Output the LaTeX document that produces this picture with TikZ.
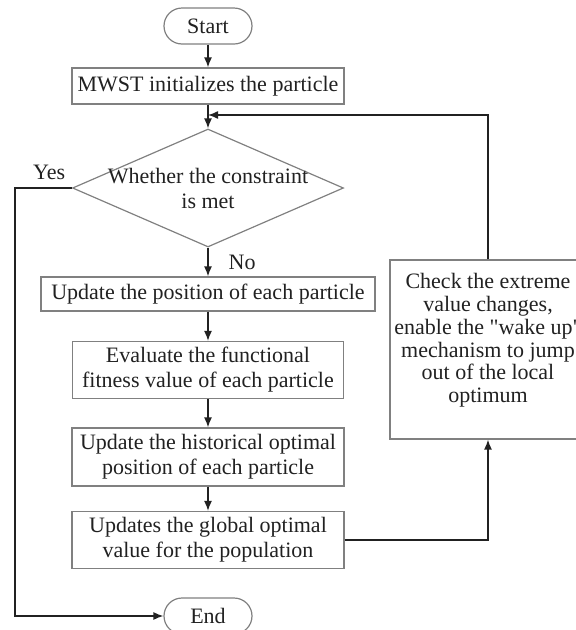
\documentclass[tikz,border=0pt]{standalone}
\usepackage{fontspec}
\setmainfont{Liberation Serif}
\usetikzlibrary{positioning,shapes.geometric,arrows.meta}
\definecolor{edge}{gray}{0.5}
\definecolor{ink}{gray}{0.13}
\tikzset{
  proc/.style={draw=edge, line width=1.2pt, minimum height=36pt, inner sep=0pt, align=center, text=ink},
  term/.style={proc, rounded corners=18pt, minimum width=88pt},
  arr/.style={draw=ink, line width=1.4pt, -{Latex[length=10pt,width=8pt]}}}

\begin{document}
\begin{tikzpicture}[x=1pt, y=1pt, font=\fontsize{22}{25}\selectfont,
  dec/.style={diamond, draw=edge, line width=1.2pt, minimum width=271pt, minimum height=118pt, inner sep=0pt},
  lbl/.style={text=ink, inner sep=2pt}]
\useasboundingbox (0,0) rectangle (576,-630);
\node[term] (start) at (208,-26) {Start};
\node[proc, minimum width=272pt] (init) at (208,-86) {MWST initializes the particle};
\node[dec] (cond) at (208,-188) {};
\node[lbl, align=center] (condtxt) at (cond) {Whether the constraint\\is met};
\node[proc, minimum width=334pt, minimum height=34pt] (upd) at (208,-294) {Update the position of each particle};
\node[proc, minimum width=271pt, minimum height=57pt] (eval) at (208,-370) {Evaluate the functional\\fitness value of each particle};
\node[proc, minimum width=272pt, minimum height=58pt] (hist) at (208,-457) {Update the historical optimal\\position of each particle};
\node[proc, minimum width=272pt, minimum height=57pt] (glob) at (208,-540) {Updates the global optimal\\value for the population};
\node[term] (end) at (208,-616) {End};
\node[proc, minimum width=196pt, minimum height=179pt,
  label={[lbl, align=center, yshift=9pt, font=\fontsize{22}{22.8}\selectfont]center:Check the extreme\\value changes,\\enable the \textquotedbl wake up\textquotedbl\\mechanism to jump\\out of the local\\optimum}] (check) at (488,-349.5) {};
\coordinate (join) at (208,-115);
\coordinate (yesc) at (15,-188);
% main chain
\foreach \a/\b in {start/init, init/cond, upd/eval, eval/hist, hist/glob}
  \draw[arr] (\a) -- (\b);
\draw[arr] (cond.south) -- node[lbl, right=18pt] {No} (upd.north);
\draw[arr] (cond.west) -- node[lbl, pos=0.4, above=6pt] {Yes} (yesc) |- (end.west);
% wake-up loop
\draw[arr] (glob.east) -| (check.south);
\draw[arr] (check.north) |- (join);
\end{tikzpicture}
\end{document}
